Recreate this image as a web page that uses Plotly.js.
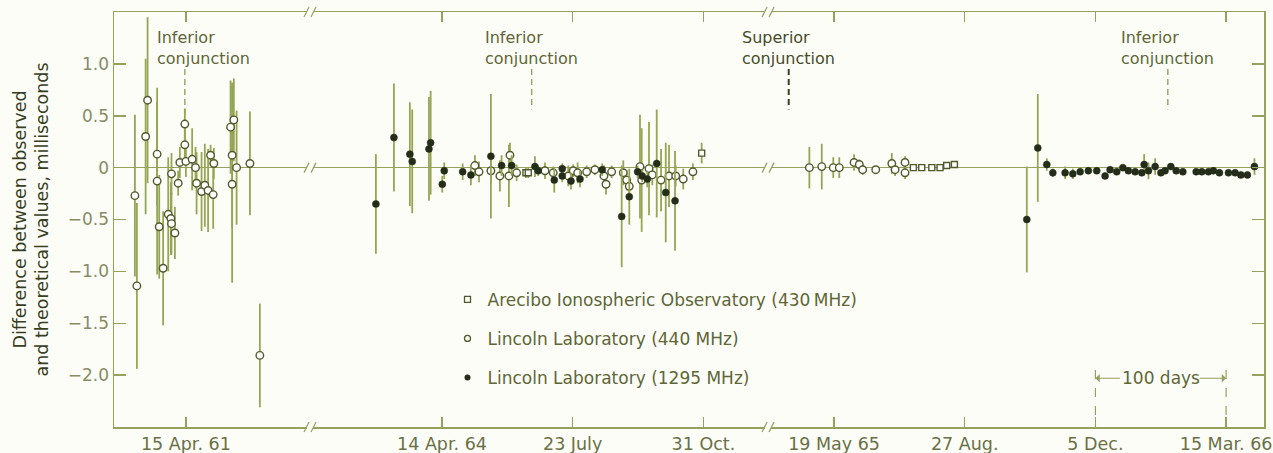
<!DOCTYPE html>
<html>
<head>
<meta charset="utf-8">
<script src="https://cdn.plot.ly/plotly-3.0.1.min.js"></script>
<style>
  html, body { margin: 0; padding: 0; background: #fdfdf8; }
  #chart { width: 1273px; height: 453px; }
</style>
</head>
<body>
<div id="chart"></div>
<script>
// ---- Axis definition (broken time axis, unit = days; 0 = 15 Apr. 61) ----
const tickDays   = [0, 196, 296, 396, 496, 596, 696, 796];
const tickLabels = ['15 Apr. 61', '14 Apr. 64', '23 July', '31 Oct.', '19 May 65', '27 Aug.', '5 Dec.', '15 Mar. 66'];
const breakDays  = [95, 445.5];
const yTickVals  = [1, 0.5, 0, -0.5, -1, -1.5, -2];
const yTickText  = ['1.0', '0.5', '0', '\u22120.5', '\u22121.0', '\u22121.5', '\u22122.0'];

// ---- Conjunction markers ----
const conjDays   = [-0.8, 264.6, 461.3, 751.4];
const conjLabels = ['Inferior<br>conjunction', 'Inferior<br>conjunction', 'Superior<br>conjunction', 'Inferior<br>conjunction'];

// ---- Arecibo Ionospheric Observatory (430 MHz): open squares ----
const areDay = [260.2, 262.0, 394.7, 556.7, 563.1, 570.8, 577.1, 582.2, 588.1];
const areRes = [-0.05, -0.05, 0.14, 0.00, 0.00, 0.00, 0.00, 0.02, 0.03];
const areErr = [0.05, 0.05, 0.10, 0.03, 0.03, 0.03, 0.03, 0.03, 0.03];

// ---- Lincoln Laboratory (440 MHz): open circles ----
const l440Day = [-39, -37.5, -30.8, -29.3, -22, -22, -20.4, -17.4, -13.5, -11.5, -11, -11, -8.4, -5.9, -4.6,
                 -0.8, -0.8, 0, 4.8, 7.4, 8.2, 12, 14.5, 17, 18.9, 20.9, 21.4, 34.2, 35.4, 35.4, 36.7, 38.8, 49, 56.6,
                 221.2, 224.3, 233.4, 240.3, 248.0, 247.2, 253.1, 274.8, 281.1, 292.6, 296.4, 299.8, 306.7, 313.0,
                 319.9, 321.5, 325.8, 334.7, 337.3, 339.3, 347.5, 348.8, 354.4, 356.9, 363.6, 369.7, 374.8, 380.6, 388.0,
                 477.1, 486.6, 495.4, 500.0, 511.3, 515.3, 517.9, 527.9, 540.2, 542.7, 550.3, 550.3];
const l440Res = [-0.27, -1.14, 0.30, 0.65, 0.13, -0.13, -0.57, -0.97, -0.45, -0.49, -0.54, -0.06, -0.63, -0.15, 0.05,
                 0.42, 0.22, 0.06, 0.08, 0.00, -0.15, -0.23, -0.17, -0.22, 0.12, -0.26, 0.04, 0.39, 0.12, -0.16, 0.46, 0.00, 0.04, -1.81,
                 0.02, -0.04, -0.03, -0.08, 0.12, -0.08, -0.05, -0.03, -0.05, -0.08, -0.03, -0.05, -0.04, -0.02,
                 -0.08, -0.16, -0.04, -0.05, -0.12, -0.18, 0.01, -0.12, -0.01, -0.07, -0.12, -0.08, -0.08, -0.11, -0.04,
                 0.00, 0.01, 0.00, 0.00, 0.05, 0.03, -0.02, -0.02, 0.04, -0.02, 0.05, -0.05];
const l440Err = [0.78, 0.80, 0.75, 0.80, 0.50, 0.90, 0.50, 0.55, 0.55, 0.35, 0.30, 0.20, 0.25, 0.12, 0.15,
                 0.15, 0.20, 0.15, 0.30, 0.20, 0.30, 0.38, 0.40, 0.40, 0.10, 0.33, 0.15, 0.45, 0.70, 0.95, 0.40, 0.55, 0.50, 0.50,
                 0.10, 0.10, 0.12, 0.15, 0.12, 0.30, 0.08, 0.08, 0.06, 0.10, 0.06, 0.10, 0.06, 0.05,
                 0.10, 0.10, 0.06, 0.12, 0.10, 0.10, 0.50, 0.50, 0.45, 0.10, 0.30, 0.30, 0.10, 0.10, 0.08,
                 0.20, 0.22, 0.10, 0.10, 0.08, 0.05, 0.05, 0.03, 0.10, 0.06, 0.06, 0.06];

// ---- Lincoln Laboratory (1295 MHz): filled circles ----
const l1295Day = [145.4, 159.2, 171.4, 173.2, 186.0, 187.3, 197.7, 196.2, 211.8, 218.1, 233.4, 241.6, 249.3,
                  267.1, 269.6, 281.9, 288.0, 288.0, 294.7, 301.6, 318.6, 333.5, 339.3, 345.7, 349.2, 353.1, 360.3, 367.2, 374.3,
                  643.5, 651.9, 658.8, 663.4, 672.8, 678.7, 684.3, 690.6, 697.0, 703.4, 707.2, 712.3, 717.0, 721.2,
                  726.4, 731.5, 733.3, 736.6, 741.7, 746.1, 749.3, 753.7, 757.8, 762.9, 773.1, 777.4, 782.5, 786.3,
                  790.9, 797.8, 802.9, 807.3, 812.3, 817.7];
const l1295Res = [-0.35, 0.29, 0.13, 0.06, 0.18, 0.24, -0.03, -0.16, -0.04, -0.07, 0.11, 0.02, 0.02,
                  0.01, -0.03, -0.12, -0.01, -0.08, -0.13, -0.11, -0.02, -0.47, -0.28, -0.04, -0.08, -0.11, 0.04, -0.24, -0.32,
                  -0.50, 0.19, 0.03, -0.05, -0.05, -0.06, -0.04, -0.03, -0.03, -0.08, -0.02, -0.04, 0.00, -0.03,
                  -0.04, -0.05, 0.03, -0.03, 0.01, -0.05, -0.03, 0.01, -0.03, -0.04, -0.04, -0.04, -0.04, -0.03,
                  -0.05, -0.05, -0.05, -0.07, -0.07, 0.01];
const l1295Err = [0.48, 0.52, 0.50, 0.50, 0.50, 0.50, 0.08, 0.08, 0.08, 0.10, 0.60, 0.10, 0.10,
                  0.10, 0.05, 0.12, 0.05, 0.06, 0.08, 0.08, 0.06, 0.49, 0.27, 0.06, 0.06, 0.08, 0.52, 0.48, 0.48,
                  0.51, 0.52, 0.06, 0.04, 0.06, 0.05, 0.03, 0.03, 0.03, 0.03, 0.03, 0.03, 0.03, 0.03,
                  0.03, 0.03, 0.10, 0.08, 0.08, 0.03, 0.03, 0.03, 0.03, 0.03, 0.03, 0.03, 0.03, 0.03,
                  0.03, 0.03, 0.03, 0.03, 0.03, 0.08];

// ---- Style ----
const BG = '#fdfdf8';
const AXIS = 'rgb(150,160,95)';
const BAR = 'rgb(150,165,85)';
const TXT = 'rgb(95,102,55)';
const DARK = 'rgb(35,45,25)';
const OPEN_LINE = 'rgb(80,90,45)';
const FONT = 'DejaVu Sans, Verdana, sans-serif';

const errStyle = (arr) => ({type: 'data', array: arr, visible: true, color: BAR, thickness: 1.8, width: 0});

const traces = [
  {x: l440Day, y: l440Res, error_y: errStyle(l440Err), type: 'scatter', mode: 'markers', showlegend: false,
   marker: {symbol: 'circle', size: 7.5, color: '#ffffff', line: {color: OPEN_LINE, width: 1.4}}},
  {x: areDay, y: areRes, error_y: errStyle(areErr), type: 'scatter', mode: 'markers', showlegend: false,
   marker: {symbol: 'square', size: 6, color: '#ffffff', line: {color: OPEN_LINE, width: 1.4}}},
  {x: l1295Day, y: l1295Res, error_y: errStyle(l1295Err), type: 'scatter', mode: 'markers', showlegend: false,
   marker: {symbol: 'circle', size: 7, color: DARK, line: {color: DARK, width: 0.5}}},
  // legend entries
  {x: [null], y: [null], type: 'scatter', mode: 'markers', name: 'Arecibo Ionospheric Observatory (430\u2009MHz)',
   legendgroup: 'a', marker: {symbol: 'square-open', size: 6, color: OPEN_LINE, line: {width: 1.3}}},
  {x: [null], y: [null], type: 'scatter', mode: 'markers', name: 'Lincoln Laboratory (440 MHz)',
   legendgroup: 'b', marker: {symbol: 'circle-open', size: 6, color: OPEN_LINE, line: {width: 1.3}}},
  {x: [null], y: [null], type: 'scatter', mode: 'markers', name: 'Lincoln Laboratory (1295 MHz)',
   legendgroup: 'c', marker: {symbol: 'circle', size: 6, color: DARK}}
];

const shapes = [];
const annotations = [];

// broken-axis marks (top axis, bottom axis, zero line)
breakDays.forEach(b => {
  [['paper', 1], ['paper', 0], ['y', 0]].forEach(([yref, ya]) => {
    shapes.push({type: 'rect', xref: 'x', yref: yref, xsizemode: 'pixel', ysizemode: 'pixel',
      xanchor: b, yanchor: ya, x0: -3, x1: 3, y0: -3, y1: 3, fillcolor: BG, line: {width: 0}, layer: 'above'});
    shapes.push({type: 'line', xref: 'x', yref: yref, xsizemode: 'pixel', ysizemode: 'pixel',
      xanchor: b, yanchor: ya, x0: -6, x1: -1, y0: -5, y1: 5, line: {color: AXIS, width: 1.2}, layer: 'above'});
    shapes.push({type: 'line', xref: 'x', yref: yref, xsizemode: 'pixel', ysizemode: 'pixel',
      xanchor: b, yanchor: ya, x0: 1, x1: 6, y0: -5, y1: 5, line: {color: AXIS, width: 1.2}, layer: 'above'});
  });
});

// conjunction markers + labels
conjDays.forEach((d, i) => {
  const sup = conjLabels[i].startsWith('Superior');
  shapes.push({type: 'line', xref: 'x', yref: 'y', x0: d, x1: d, y0: 0.95, y1: sup ? 0.56 : (i === 0 ? 0.44 : 0.56),
    line: {color: sup ? 'rgb(60,65,35)' : AXIS, width: sup ? 2 : 1.4, dash: '6px,4px'}, layer: 'below'});
  annotations.push({xref: 'x', yref: 'paper', x: d, y: 1, yanchor: 'top', xanchor: 'center', align: 'left',
    xshift: i === 0 ? 19 : 0, yshift: -14, showarrow: false, text: conjLabels[i],
    font: {family: FONT, size: 16, color: sup ? 'rgb(70,76,40)' : TXT}});
});

// "100 days" scale
[tickDays[6], tickDays[7]].forEach(d => {
  shapes.push({type: 'line', xref: 'x', yref: 'y', x0: d, x1: d, y0: -1.95, y1: -2.5,
    line: {color: AXIS, width: 1.2, dash: 'dash'}});
});
annotations.push({xref: 'x', yref: 'y', x: tickDays[6], y: -2.03, ax: 26, ay: 0, text: '', showarrow: true,
  arrowhead: 1, arrowsize: 1.2, arrowwidth: 1.2, arrowcolor: AXIS});
annotations.push({xref: 'x', yref: 'y', x: tickDays[7], y: -2.03, ax: -28, ay: 0, text: '', showarrow: true,
  arrowhead: 1, arrowsize: 1.2, arrowwidth: 1.2, arrowcolor: AXIS});
annotations.push({xref: 'x', yref: 'y', x: (tickDays[6] + tickDays[7]) / 2, y: -2.03, text: '100 days', showarrow: false,
  font: {family: FONT, size: 17, color: TXT}});

const layout = {
  width: 1273, height: 453,
  margin: {l: 114, r: 9, t: 12, b: 26},
  paper_bgcolor: BG, plot_bgcolor: BG,
  font: {family: FONT, size: 16, color: TXT},
  showlegend: true,
  legend: {x: 0.29, y: 0.35, xanchor: 'left', yanchor: 'top', bgcolor: 'rgba(0,0,0,0)',
    font: {family: FONT, size: 17, color: TXT}, tracegroupgap: 14, itemwidth: 30},
  xaxis: {range: [-55, 825], tickmode: 'array', tickvals: tickDays, ticktext: tickLabels,
    showgrid: false, zeroline: false, showline: true, linecolor: AXIS, linewidth: 1.5,
    ticks: 'inside', ticklen: 10, tickwidth: 1.5, tickcolor: AXIS, mirror: 'ticks',
    tickfont: {family: FONT, size: 17.5, color: 'rgb(105,112,70)'}},
  yaxis: {range: [-2.5, 1.5], tickmode: 'array', tickvals: yTickVals, ticktext: yTickText,
    showgrid: false, zeroline: true, zerolinecolor: AXIS, zerolinewidth: 1.5,
    showline: true, linecolor: AXIS, linewidth: 1.5,
    ticks: 'inside', ticklen: 12, tickwidth: 1.5, tickcolor: AXIS, mirror: 'ticks',
    tickfont: {family: FONT, size: 17, color: 'rgb(135,140,100)'},
    title: {text: 'Difference between observed<br>and theoretical values, milliseconds',
      font: {family: FONT, size: 17.5, color: 'rgb(55,62,30)'}, standoff: 14}},
  shapes: shapes,
  annotations: annotations
};

Plotly.newPlot('chart', traces, layout, {staticPlot: true, displayModeBar: false});
</script>
</body>
</html>
